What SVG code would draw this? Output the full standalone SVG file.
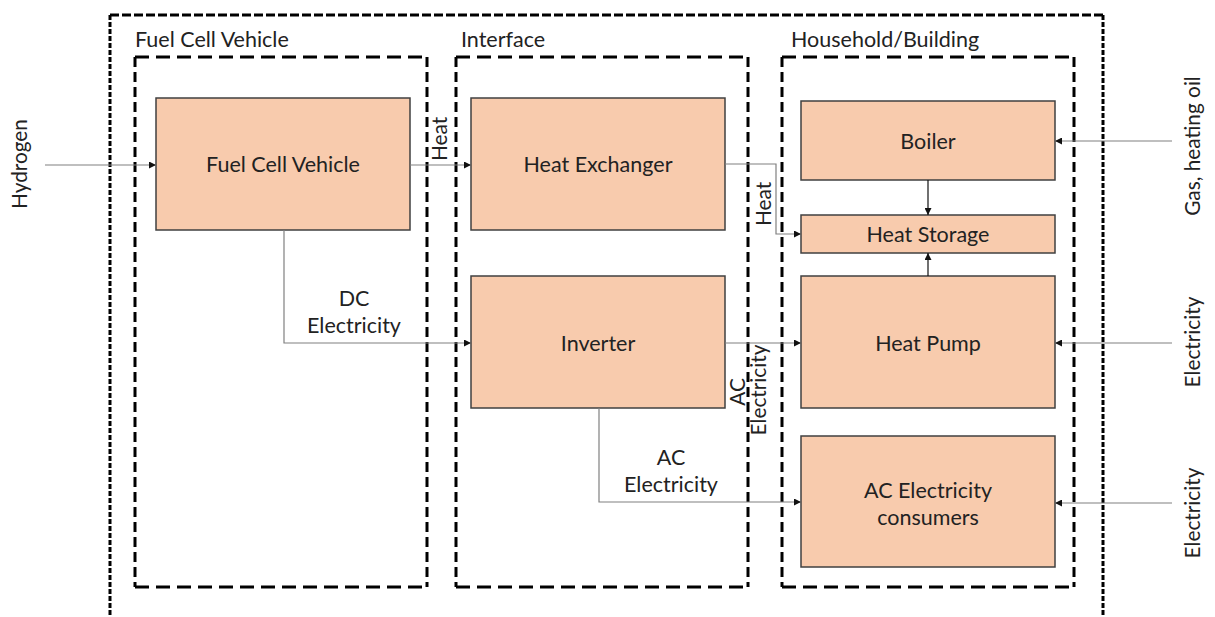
<svg xmlns="http://www.w3.org/2000/svg" width="1215" height="617" viewBox="0 0 1215 617">
  <defs>
    <marker id="arrow" viewBox="0 0 10 10" refX="10" refY="5" markerWidth="7" markerHeight="7" markerUnits="userSpaceOnUse" orient="auto">
      <path d="M0,0 L10,5 L0,10 z" fill="#111"/>
    </marker>
    <style>
      .node rect { fill: #F8CBAD; stroke: #404040; stroke-width: 1.5; }
      .node text { font-family: Lato, "Liberation Sans", sans-serif; font-size: 21.5px; fill: #222; text-anchor: middle; dominant-baseline: central; }
      .frame-h { fill: none; stroke: #000; stroke-width: 3; stroke-dasharray: 14 7; }
      .frame-v { fill: none; stroke: #000; stroke-width: 3; stroke-dasharray: 10 5; }
      .outer-h { fill: none; stroke: #000; stroke-width: 3; stroke-dasharray: 9 3; }
      .outer-v { fill: none; stroke: #000; stroke-width: 3; stroke-dasharray: 5 2; }
      .title { font-family: Lato, "Liberation Sans", sans-serif; font-size: 21.5px; fill: #222; }
      .conn { fill: none; stroke: #808080; stroke-width: 1.2; marker-end: url(#arrow); }
      .conn-dark { fill: none; stroke: #111; stroke-width: 1.2; marker-end: url(#arrow); }
      .lbl { font-family: Lato, "Liberation Sans", sans-serif; font-size: 21.5px; fill: #222; text-anchor: middle; }
      .vlbl { font-family: Lato, "Liberation Sans", sans-serif; font-size: 20.8px; fill: #222; text-anchor: middle; }
    </style>
  </defs>

  <rect width="1215" height="617" fill="#fff"/>

  <!-- outer system boundary (open at the bottom) -->
  <g id="system-boundary">
    <line class="outer-h" x1="110" y1="15" x2="1103" y2="15"/>
    <line class="outer-v" x1="110" y1="15" x2="110" y2="617"/>
    <line class="outer-v" x1="1103" y1="15" x2="1103" y2="617"/>
  </g>

  <!-- sub-system frames -->
  <g id="frame-vehicle">
    <text class="title" x="135" y="47">Fuel Cell Vehicle</text>
    <line class="frame-h" x1="135" y1="57" x2="427" y2="57"/>
    <line class="frame-h" x1="135" y1="587" x2="427" y2="587"/>
    <line class="frame-v" x1="135" y1="57" x2="135" y2="587"/>
    <line class="frame-v" x1="427" y1="57" x2="427" y2="587"/>
  </g>
  <g id="frame-interface">
    <text class="title" x="461" y="47">Interface</text>
    <line class="frame-h" x1="456" y1="57" x2="748" y2="57"/>
    <line class="frame-h" x1="456" y1="587" x2="748" y2="587"/>
    <line class="frame-v" x1="456" y1="57" x2="456" y2="587"/>
    <line class="frame-v" x1="748" y1="57" x2="748" y2="587"/>
  </g>
  <g id="frame-household">
    <text class="title" x="791" y="47">Household/Building</text>
    <line class="frame-h" x1="782" y1="57" x2="1074" y2="57"/>
    <line class="frame-h" x1="782" y1="587" x2="1074" y2="587"/>
    <line class="frame-v" x1="782" y1="57" x2="782" y2="587"/>
    <line class="frame-v" x1="1074" y1="57" x2="1074" y2="587"/>
  </g>

  <!-- nodes -->
  <g id="fuel-cell-vehicle" class="node">
    <rect x="156" y="98" width="254" height="132"/>
    <text x="283" y="164">Fuel Cell Vehicle</text>
  </g>
  <g id="heat-exchanger" class="node">
    <rect x="471" y="98" width="254" height="132"/>
    <text x="598" y="164">Heat Exchanger</text>
  </g>
  <g id="inverter" class="node">
    <rect x="471" y="276" width="254" height="132"/>
    <text x="598" y="343">Inverter</text>
  </g>
  <g id="boiler" class="node">
    <rect x="801" y="101" width="254" height="79"/>
    <text x="928" y="141">Boiler</text>
  </g>
  <g id="heat-storage" class="node">
    <rect x="801" y="215" width="254" height="38"/>
    <text x="928" y="234">Heat Storage</text>
  </g>
  <g id="heat-pump" class="node">
    <rect x="801" y="276" width="254" height="132"/>
    <text x="928" y="343">Heat Pump</text>
  </g>
  <g id="ac-consumers" class="node">
    <rect x="801" y="436" width="254" height="131"/>
    <text x="928" y="490">AC Electricity</text>
    <text x="928" y="517">consumers</text>
  </g>

  <!-- connectors -->
  <g id="connectors">
    <line class="conn" x1="45" y1="165" x2="156" y2="165"/>
    <line class="conn" x1="410" y1="165" x2="471" y2="165"/>
    <polyline class="conn" points="725,164 776,164 776,234 801,234"/>
    <line class="conn-dark" x1="928" y1="180" x2="928" y2="215"/>
    <line class="conn-dark" x1="928" y1="276" x2="928" y2="253"/>
    <polyline class="conn" points="284,230 284,343 471,343"/>
    <line class="conn" x1="725" y1="343" x2="801" y2="343"/>
    <polyline class="conn" points="599,408 599,502 801,502"/>
    <line class="conn" x1="1172" y1="141" x2="1055" y2="141"/>
    <line class="conn" x1="1172" y1="343" x2="1055" y2="343"/>
    <line class="conn" x1="1172" y1="503" x2="1055" y2="503"/>

    <!-- connector labels -->
    <text class="vlbl" transform="translate(27,164) rotate(-90)">Hydrogen</text>
    <text class="vlbl" transform="translate(447,139) rotate(-90)">Heat</text>
    <text class="vlbl" transform="translate(771,204) rotate(-90)">Heat</text>
    <text class="lbl" x="354" y="306">DC</text>
    <text class="lbl" x="354" y="333">Electricity</text>
    <text class="vlbl" transform="translate(745,392) rotate(-90)">AC</text>
    <text class="vlbl" transform="translate(766,390) rotate(-90)">Electricity</text>
    <text class="lbl" x="671" y="465">AC</text>
    <text class="lbl" x="671" y="492">Electricity</text>
    <text class="vlbl" transform="translate(1200,146) rotate(-90)">Gas, heating oil</text>
    <text class="vlbl" transform="translate(1200,342) rotate(-90)">Electricity</text>
    <text class="vlbl" transform="translate(1200,513) rotate(-90)">Electricity</text>
  </g>
</svg>
